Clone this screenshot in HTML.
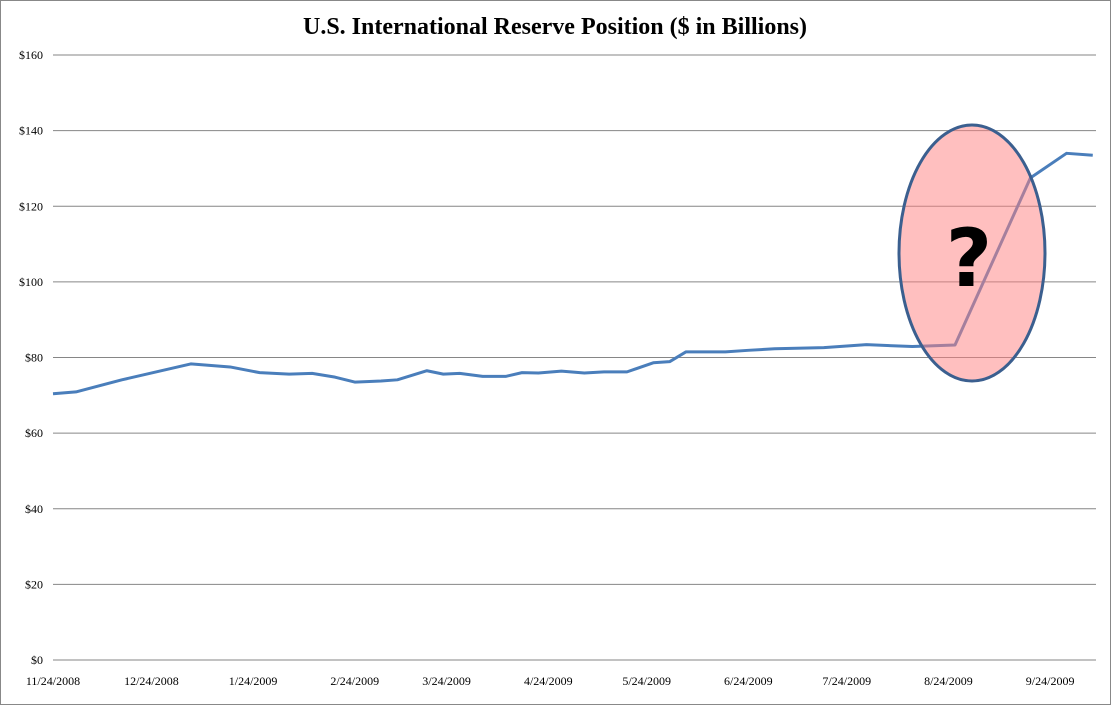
<!DOCTYPE html>
<html><head><meta charset="utf-8"><style>
html,body{margin:0;padding:0;background:#fff;}
svg{display:block;}
</style></head><body>
<svg id="chart" width="1111" height="705" viewBox="0 0 1111 705" xmlns="http://www.w3.org/2000/svg">
<rect x="0.5" y="0.5" width="1110" height="704" fill="#fff" stroke="#888"/>
<text x="555" y="34" text-anchor="middle" font-family="Liberation Serif, serif" font-weight="bold" font-size="24">U.S. International Reserve Position ($ in Billions)</text>
<g id="grid"></g><g id="yt"></g><g id="xt"></g><g id="series"></g>
<ellipse cx="972" cy="253" rx="73" ry="128" fill="#ff7f7f" fill-opacity="0.5" stroke="#3b5f8f" stroke-width="3"/>
<text x="969" y="286" text-anchor="middle" font-family="DejaVu Sans, sans-serif" font-weight="bold" font-size="80" fill="#000">?</text>
</svg>
<script>
const NS="http://www.w3.org/2000/svg";
const yTicks=[0,20,40,60,80,100,120,140,160];
const yTickLabels=["$0","$20","$40","$60","$80","$100","$120","$140","$160"];
const xTickDays=[0,30,61,92,120,151,181,212,242,273,304];
const xTickLabels=["11/24/2008","12/24/2008","1/24/2009","2/24/2009","3/24/2009","4/24/2009","5/24/2009","6/24/2009","7/24/2009","8/24/2009","9/24/2009"];
const dayOffsets=[0,7,21,42,54,63,72,79,86,92,100,105,114,119,124,131,138,143,148,155,162,168,175,183,188,193,205,212,220,235,248,262,275,298,309,317];
const reserveValues=[70.4,70.9,74.1,78.3,77.5,76.0,75.6,75.8,74.8,73.5,73.8,74.1,76.5,75.6,75.8,75.0,75.0,76.0,75.9,76.4,75.9,76.2,76.2,78.6,78.9,81.5,81.5,81.9,82.3,82.6,83.4,82.9,83.3,127.5,134.0,133.5];
const X0=53,X1=1096,Y0=660,Y1=55;
const xs=d=>X0+d*3.28;
const ys=v=>Y0-(v/160)*(Y0-Y1);
const grid=document.getElementById('grid'),yt=document.getElementById('yt'),xt=document.getElementById('xt'),ser=document.getElementById('series');
yTicks.forEach((v,i)=>{
  const l=document.createElementNS(NS,'line');
  l.setAttribute('x1',X0);l.setAttribute('x2',X1);l.setAttribute('y1',ys(v));l.setAttribute('y2',ys(v));
  l.setAttribute('stroke','#868686');l.setAttribute('stroke-width','1');
  
  
  grid.appendChild(l);
  const t=document.createElementNS(NS,'text');
  t.setAttribute('x',43);t.setAttribute('y',ys(v)+4);t.setAttribute('text-anchor','end');
  t.setAttribute('font-family','Liberation Serif, serif');t.setAttribute('font-size','12');
  t.textContent=yTickLabels[i];
  
  
  yt.appendChild(t);
});
xTickDays.forEach((d,i)=>{
  const t=document.createElementNS(NS,'text');
  t.setAttribute('x',xs(d));t.setAttribute('y',685);t.setAttribute('text-anchor','middle');
  t.setAttribute('font-family','Liberation Serif, serif');t.setAttribute('font-size','12');
  t.textContent=xTickLabels[i];
  
  
  xt.appendChild(t);
});
const p=document.createElementNS(NS,'polyline');
p.setAttribute('points',dayOffsets.map((d,i)=>xs(d)+','+ys(reserveValues[i])).join(' '));
p.setAttribute('fill','none');p.setAttribute('stroke','#4a7ebb');p.setAttribute('stroke-width','3');p.setAttribute('stroke-linejoin','round');


ser.appendChild(p);
</script>
</body></html>
